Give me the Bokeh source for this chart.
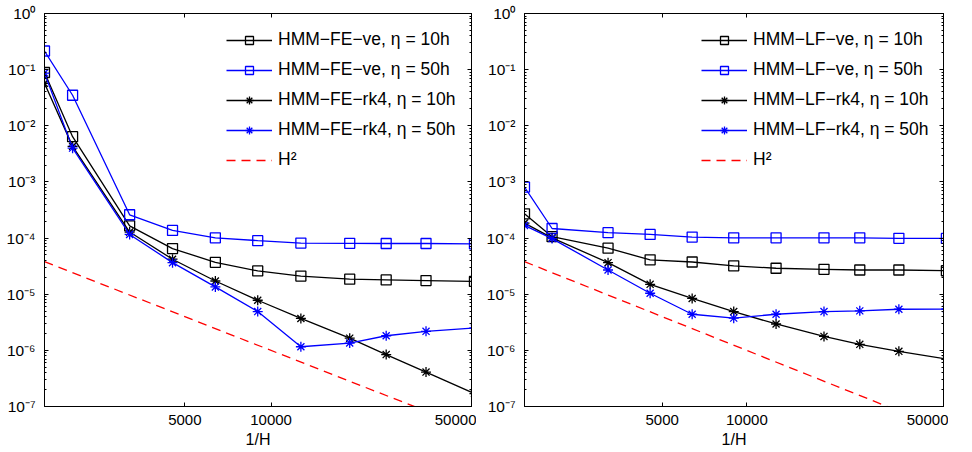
from bokeh.plotting import figure
from bokeh.layouts import row
from bokeh.models import Range1d, LogAxis, FixedTicker, CustomJSTickFormatter
from bokeh.embed import file_html
from bokeh.resources import INLINE

# ---- data ----
inv_h = [1620, 2030, 3210, 4530, 6390, 8980, 12700, 18800, 25200, 34700, 51200]

fe_ve_10 = [8.9e-2, 6.4e-3, 1.65e-4, 6.5e-5, 3.7e-5, 2.6e-5, 2.1e-5, 1.85e-5, 1.8e-5, 1.75e-5, 1.69e-5]
fe_ve_50 = [2.15e-1, 3.5e-2, 2.6e-4, 1.37e-4, 1.01e-4, 9.0e-5, 8.15e-5, 8.05e-5, 8.0e-5, 8.0e-5, 7.9e-5]
fe_rk4_10 = [5.7e-2, 4.3e-3, 1.28e-4, 4.2e-5, 1.72e-5, 7.8e-6, 3.7e-6, 1.65e-6, 8.4e-7, 4.1e-7, 1.7e-7]
fe_rk4_50 = [8.7e-2, 4.0e-3, 1.16e-4, 3.65e-5, 1.35e-5, 4.9e-6, 1.16e-6, 1.35e-6, 1.82e-6, 2.18e-6, 2.5e-6]

lf_ve_10 = [2.7e-4, 1.06e-4, 6.6e-5, 4.1e-5, 3.75e-5, 3.2e-5, 2.9e-5, 2.78e-5, 2.7e-5, 2.7e-5, 2.62e-5]
lf_ve_50 = [8.1e-4, 1.48e-4, 1.25e-4, 1.16e-4, 1.04e-4, 1.01e-4, 1.01e-4, 1.01e-4, 1.01e-4, 9.9e-5, 9.85e-5]
lf_rk4_10 = [1.85e-4, 1.01e-4, 3.65e-5, 1.5e-5, 8.4e-6, 4.9e-6, 2.95e-6, 1.77e-6, 1.28e-6, 9.6e-7, 7.0e-7]
lf_rk4_50 = [1.68e-4, 9.8e-5, 2.7e-5, 1.04e-5, 4.4e-6, 3.75e-6, 4.4e-6, 4.9e-6, 5.05e-6, 5.4e-6, 5.45e-6]

h2_x = [1620, 51200]
h2_y = [3.8e-5, 3.8e-8]

fe_labels = ["HMM\u2212FE\u2212ve, \u03b7 = 10h", "HMM\u2212FE\u2212ve, \u03b7 = 50h",
             "HMM\u2212FE\u2212rk4, \u03b7 = 10h", "HMM\u2212FE\u2212rk4, \u03b7 = 50h", "H\u00b2"]
lf_labels = ["HMM\u2212LF\u2212ve, \u03b7 = 10h", "HMM\u2212LF\u2212ve, \u03b7 = 50h",
             "HMM\u2212LF\u2212rk4, \u03b7 = 10h", "HMM\u2212LF\u2212rk4, \u03b7 = 50h", "H\u00b2"]

x_ticks = [5000, 10000, 50000]
y_ticks = [1e-7, 1e-6, 1e-5, 1e-4, 1e-3, 1e-2, 1e-1, 1.0]
y_minor = [m * 10.0 ** e for e in range(-7, 0) for m in range(2, 10)]

x_label = "1/H"
FONT = "Liberation Sans"

Y_FMT = CustomJSTickFormatter(code="""
const s = {'-':'\u207b','0':'\u2070','1':'\u00b9','2':'\u00b2','3':'\u00b3','4':'\u2074',
           '5':'\u2075','6':'\u2076','7':'\u2077','8':'\u2078','9':'\u2079'};
const e = Math.round(Math.log10(tick));
return '10' + String(e).split('').map(c => s[c]).join('');
""")
X_FMT = CustomJSTickFormatter(code="return tick.toFixed(0);")
EMPTY_FMT = CustomJSTickFormatter(code="return '';")


def style_axis(ax, labels=True):
    ax.axis_line_color = "black"
    ax.axis_line_width = 1
    ax.major_tick_in = 4
    ax.major_tick_out = 0
    ax.minor_tick_in = 2
    ax.minor_tick_out = 0
    ax.major_tick_line_color = "black"
    ax.minor_tick_line_color = "black"
    ax.major_label_text_font = FONT
    ax.major_label_text_font_size = "15px"
    ax.major_label_text_color = "black"
    if not labels:
        ax.major_label_text_font_size = "0px"
        ax.major_label_standoff = 0


def make_panel(width, border_left, ys, labels, leg_x):
    p = figure(width=width, height=450, x_axis_type="log", y_axis_type="log",
               x_range=Range1d(1620, 50000), y_range=Range1d(1e-7, 1.0),
               output_backend="svg", toolbar_location=None,
               min_border_left=border_left, min_border_right=5,
               min_border_top=13, min_border_bottom=43)
    p.xgrid.visible = False
    p.ygrid.visible = False
    p.outline_line_color = "black"
    p.background_fill_color = "white"
    p.border_fill_color = "white"

    xa = p.xaxis[0]
    xa.ticker = FixedTicker(ticks=x_ticks)
    xa.formatter = X_FMT
    style_axis(xa)
    xa.major_label_standoff = 8
    xa.axis_label = x_label
    xa.axis_label_text_font = FONT
    xa.axis_label_text_font_size = "16px"
    xa.axis_label_text_font_style = "normal"
    xa.axis_label_text_color = "black"
    xa.axis_label_standoff = 3

    ya = p.yaxis[0]
    ya.ticker = FixedTicker(ticks=y_ticks, minor_ticks=y_minor)
    ya.formatter = Y_FMT
    style_axis(ya)
    ya.major_label_text_font_size = "15.5px"
    ya.major_label_standoff = 9

    top = LogAxis(ticker=FixedTicker(ticks=x_ticks), formatter=EMPTY_FMT)
    style_axis(top, labels=False)
    p.add_layout(top, "above")
    right = LogAxis(ticker=FixedTicker(ticks=y_ticks, minor_ticks=y_minor), formatter=EMPTY_FMT)
    style_axis(right, labels=False)
    p.add_layout(right, "right")

    colors = ["black", "#0000ff", "black", "#0000ff"]
    markers = ["square", "square", "asterisk", "asterisk"]
    for y, c, m, lab in zip(ys, colors, markers, labels[:4]):
        p.line(inv_h, y, line_color=c, line_width=1.3, legend_label=lab)
        p.scatter(inv_h, y, marker=m, size=10, line_color=c, fill_color=None,
                  line_width=1.3, legend_label=lab)
    p.line(h2_x, h2_y, line_color="#ff0000", line_width=1.3, line_dash="9 6",
           legend_label=labels[4])

    lg = p.legend[0]
    lg.location = (leg_x, 236)
    lg.border_line_color = None
    lg.background_fill_alpha = 0
    lg.padding = 0
    lg.margin = 0
    lg.spacing = 9
    lg.glyph_width = 46
    lg.glyph_height = 20
    lg.label_height = 20
    lg.label_standoff = 6
    lg.label_text_font = FONT
    lg.label_text_font_size = "17.5px"
    lg.label_text_color = "black"
    return p


p1 = make_panel(476, 44, [fe_ve_10, fe_ve_50, fe_rk4_10, fe_rk4_50], fe_labels, 182)
p2 = make_panel(472, 48, [lf_ve_10, lf_ve_50, lf_rk4_10, lf_rk4_50], lf_labels, 177)

layout = row(p1, p2)
open("out.html", "w").write(file_html(layout, INLINE))
